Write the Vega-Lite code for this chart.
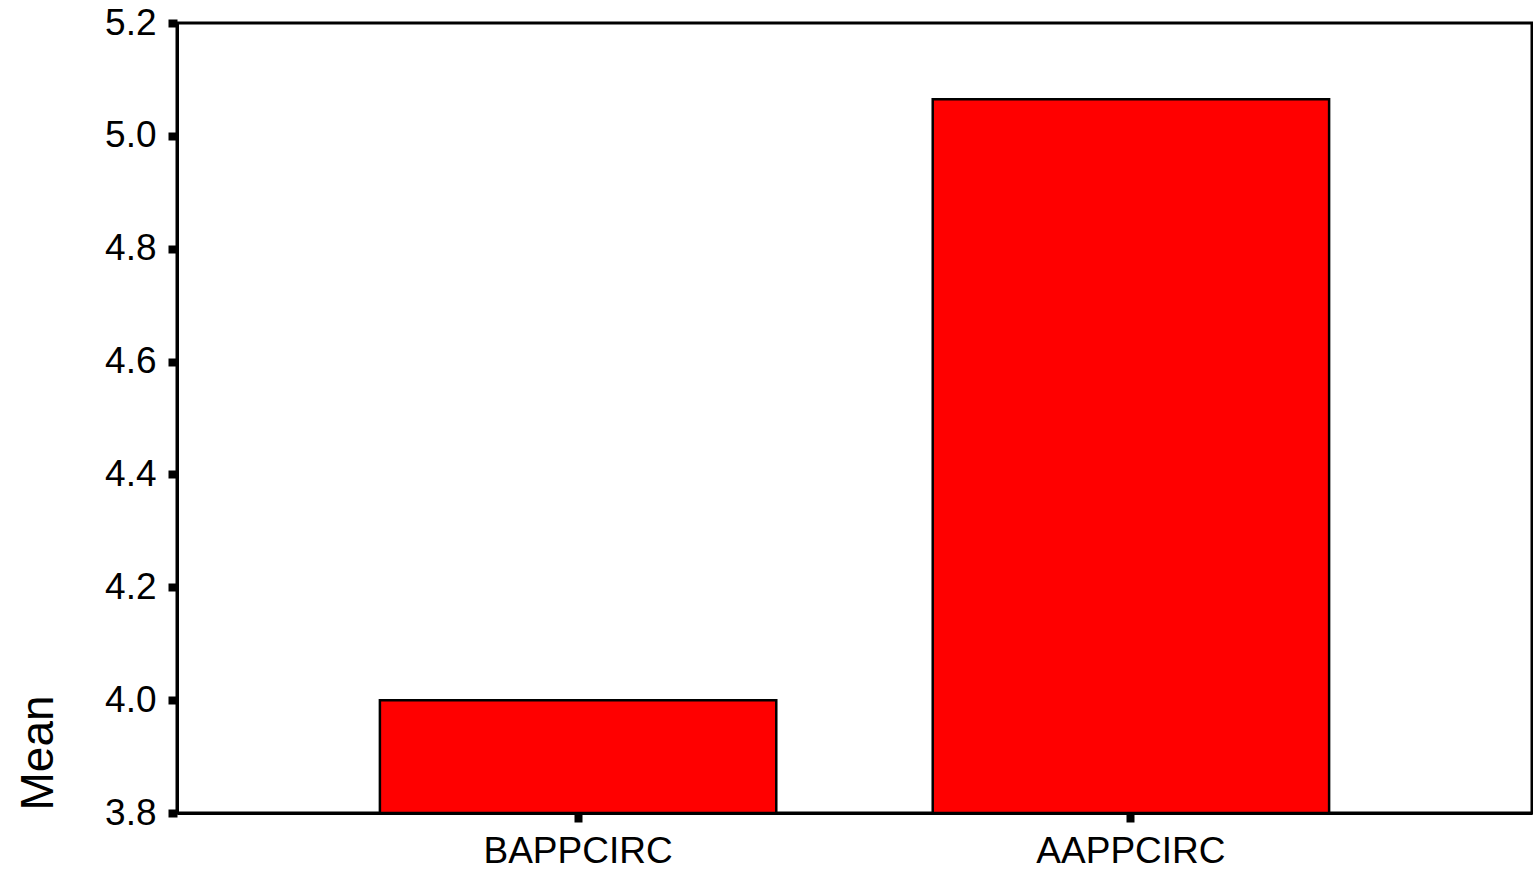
{
  "$schema": "https://vega.github.io/schema/vega-lite/v6.json",
  "width": 1355,
  "height": 790,
  "autosize": {"type": "none"},
  "padding": {"left": 177, "top": 23, "right": 1, "bottom": 57},
  "background": "white",
  "config": {
    "view": {"stroke": "black", "strokeWidth": 3},
    "font": "Liberation Sans"
  },
  "data": {
    "values": [
      {"variable": "BAPPCIRC", "mean": 4.0},
      {"variable": "AAPPCIRC", "mean": 5.065}
    ]
  },
  "mark": {"type": "bar", "fill": "#FF0000", "stroke": "black", "strokeWidth": 2.5},
  "encoding": {
    "x": {
      "field": "variable",
      "type": "nominal",
      "sort": ["BAPPCIRC", "AAPPCIRC"],
      "scale": {"paddingInner": 0.283, "paddingOuter": 0.367},
      "axis": {
        "title": null,
        "labelAngle": 0,
        "labelFontSize": 37,
        "labelLimit": 0,
        "labelColor": "black",
        "labelPadding": 11,
        "labelBaseline": "top",
        "tickSize": 9,
        "tickWidth": 8,
        "tickColor": "black",
        "domainColor": "black",
        "domainWidth": 3
      }
    },
    "y": {
      "field": "mean",
      "type": "quantitative",
      "scale": {"domain": [3.8, 5.2], "zero": false, "nice": false},
      "axis": {
        "title": "Mean",
        "values": [3.8, 4.0, 4.2, 4.4, 4.6, 4.8, 5.0, 5.2],
        "format": ".1f",
        "grid": false,
        "labelFontSize": 37,
        "labelLimit": 0,
        "labelColor": "black",
        "labelPadding": 12,
        "tickSize": 9,
        "tickWidth": 8,
        "tickColor": "black",
        "domainColor": "black",
        "domainWidth": 3,
        "titleFontSize": 46,
        "titleFontWeight": "normal",
        "titleColor": "black",
        "titleAngle": -90,
        "titleAlign": "left",
        "titleBaseline": "alphabetic",
        "titleX": -125,
        "titleY": 787
      }
    },
    "y2": {"datum": 3.8}
  }
}
